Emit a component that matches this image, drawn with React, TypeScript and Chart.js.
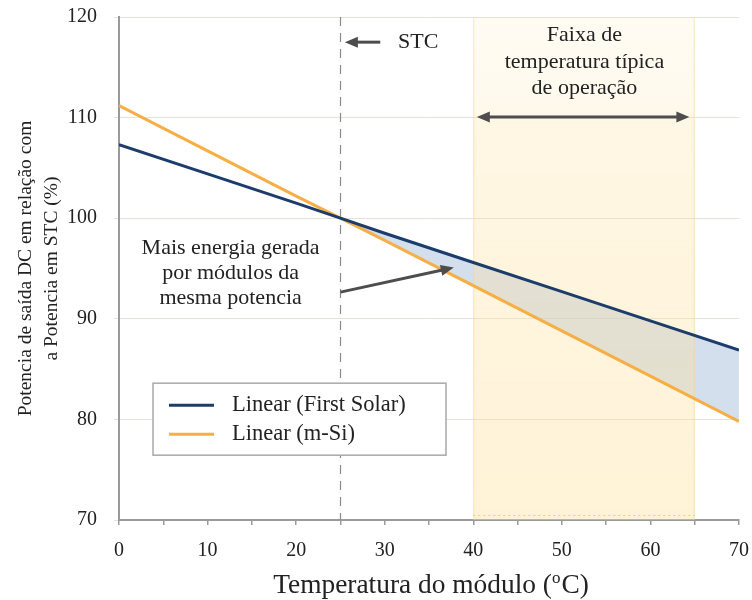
import React, { useEffect, useRef } from "react";
import { Chart, registerables } from "chart.js";

Chart.register(...registerables);

// ---- data ----
const temperatures = [0, 10, 20, 25, 30, 40, 50, 60, 70];
const firstSolar = [107.3, 104.4, 101.5, 100, 98.5, 95.6, 92.7, 89.8, 86.9];
const mSi = [111.2, 106.7, 102.2, 100, 97.8, 93.3, 88.8, 84.3, 79.8];
const seriesLabels = ["Linear (First Solar)", "Linear (m-Si)"];
const seriesColors = ["#1c3d6b", "#f6ae45"];
const xTickLabels = [0, 10, 20, 30, 40, 50, 60, 70];
const yTickValues = [70, 80, 90, 100, 110, 120];
const stcTemperature = 25;
const bandRange = [40, 65];
const yAxisTitle = ["Potencia de saída DC em relação com", "a Potencia em STC (%)"];
const xAxisTitle = ["Temperatura do módulo (", "o", "C)"];
const stcLabel = "STC";
const bandLabel = ["Faixa de", "temperatura típica", "de operação"];
const gainLabel = ["Mais energia gerada", "por módulos da", "mesma potencia"];

const FONT = "'Liberation Serif', 'Times New Roman', serif";
const TEXT = "#222222";
const ARROW = "#4d4d4d";

function drawArrow(ctx: CanvasRenderingContext2D, x1: number, y1: number, x2: number, y2: number, both = false) {
  const head = 13;
  const half = 5.5;
  const ang = Math.atan2(y2 - y1, x2 - x1);
  ctx.save();
  ctx.strokeStyle = ARROW;
  ctx.fillStyle = ARROW;
  ctx.lineWidth = 3;
  const sx = both ? x1 + Math.cos(ang) * head * 0.8 : x1;
  const sy = both ? y1 + Math.sin(ang) * head * 0.8 : y1;
  ctx.beginPath();
  ctx.moveTo(sx, sy);
  ctx.lineTo(x2 - Math.cos(ang) * head * 0.8, y2 - Math.sin(ang) * head * 0.8);
  ctx.stroke();
  const tri = (tx: number, ty: number, a: number) => {
    ctx.beginPath();
    ctx.moveTo(tx, ty);
    ctx.lineTo(tx - Math.cos(a) * head - Math.sin(a) * half, ty - Math.sin(a) * head + Math.cos(a) * half);
    ctx.lineTo(tx - Math.cos(a) * head + Math.sin(a) * half, ty - Math.sin(a) * head - Math.cos(a) * half);
    ctx.closePath();
    ctx.fill();
  };
  tri(x2, y2, ang);
  if (both) tri(x1, y1, ang + Math.PI);
  ctx.restore();
}

const overlayPlugin = {
  id: "overlay",
  beforeDatasetsDraw(chart: any) {
    const { ctx, chartArea: ca, scales } = chart;
    const xs = scales.x;
    const bx0 = xs.getPixelForValue(bandRange[0]);
    const bx1 = xs.getPixelForValue(bandRange[1]);
    ctx.save();
    const g = ctx.createLinearGradient(0, ca.top, 0, ca.bottom);
    g.addColorStop(0, "rgba(255,226,160,0.12)");
    g.addColorStop(0.18, "rgba(255,226,160,0.2)");
    g.addColorStop(0.21, "rgba(255,226,160,0.28)");
    g.addColorStop(0.5, "rgba(255,226,160,0.34)");
    g.addColorStop(1, "rgba(255,224,150,0.38)");
    ctx.fillStyle = g;
    ctx.fillRect(bx0, ca.top, bx1 - bx0, ca.bottom - ca.top);
    ctx.strokeStyle = "rgba(248,205,135,0.5)";
    ctx.lineWidth = 1;
    ctx.beginPath();
    ctx.moveTo(bx0 + 0.5, ca.top);
    ctx.lineTo(bx0 + 0.5, ca.bottom);
    ctx.moveTo(bx1 - 0.5, ca.top);
    ctx.lineTo(bx1 - 0.5, ca.bottom);
    ctx.stroke();
    ctx.setLineDash([2, 3]);
    ctx.strokeStyle = "rgba(240,190,110,0.8)";
    ctx.beginPath();
    ctx.moveTo(bx0, ca.bottom - 4.5);
    ctx.lineTo(bx1, ca.bottom - 4.5);
    ctx.stroke();
    // STC dashed line
    const sx = Math.round(xs.getPixelForValue(stcTemperature)) + 0.5;
    ctx.setLineDash([9, 7]);
    ctx.strokeStyle = "#8a8a8a";
    ctx.lineWidth = 1.2;
    ctx.beginPath();
    ctx.moveTo(sx, ca.top);
    ctx.lineTo(sx, ca.bottom);
    ctx.stroke();
    ctx.restore();
  },
  afterDatasetsDraw(chart: any) {
    const { ctx, chartArea: ca, scales } = chart;
    const xs = scales.x;
    const ys = scales.y;
    const px = (v: number) => xs.getPixelForValue(v);
    const py = (v: number) => ys.getPixelForValue(v);
    ctx.save();
    ctx.fillStyle = TEXT;
    ctx.font = `22px ${FONT}`;
    ctx.textBaseline = "middle";

    // STC annotation
    drawArrow(ctx, px(29.5), py(117.5), px(25.5), py(117.5));
    ctx.textAlign = "left";
    ctx.fillStyle = TEXT;
    ctx.fillText(stcLabel, px(31.5), py(117.5));

    // band annotation
    ctx.textAlign = "center";
    const bandY = [118.2, 115.5, 112.9];
    bandLabel.forEach((t, i) => ctx.fillText(t, px(52.55), py(bandY[i])));
    drawArrow(ctx, px(40.4), py(110.05), px(64.4), py(110.05), true);

    // gain annotation
    const gainY = [97.05, 94.55, 92.05];
    ctx.fillStyle = TEXT;
    gainLabel.forEach((t, i) => ctx.fillText(t, px(12.6), py(gainY[i])));
    drawArrow(ctx, px(25), py(92.65), px(37.8), py(95.1));

    // legend
    const lx = ca.left + 34;
    const ly = py(83.6);
    const lw = 293;
    const lh = 72;
    ctx.fillStyle = "#ffffff";
    ctx.fillRect(lx, ly, lw, lh);
    ctx.strokeStyle = "#a9a9a9";
    ctx.lineWidth = 1.5;
    ctx.strokeRect(lx, ly, lw, lh);
    ctx.font = `22.5px ${FONT}`;
    const ds = chart.data.datasets;
    ds.forEach((d: any, i: number) => {
      const yy = ly + 22 + i * 29;
      ctx.strokeStyle = d.borderColor;
      ctx.lineWidth = 3;
      ctx.beginPath();
      ctx.moveTo(lx + 16, yy);
      ctx.lineTo(lx + 61, yy);
      ctx.stroke();
      ctx.fillStyle = TEXT;
      ctx.textAlign = "left";
      ctx.fillText(d.label, lx + 79, yy);
    });
    ctx.restore();
  },
  afterDraw(chart: any) {
    const { ctx, chartArea: ca } = chart;
    ctx.save();
    ctx.fillStyle = TEXT;
    ctx.textBaseline = "middle";
    ctx.textAlign = "left";
    const big = `27.4px ${FONT}`;
    const small = `17px ${FONT}`;
    ctx.font = big;
    const w1 = ctx.measureText(xAxisTitle[0]).width;
    const w3 = ctx.measureText(xAxisTitle[2]).width;
    ctx.font = small;
    const w2 = ctx.measureText(xAxisTitle[1]).width + 1;
    const total = w1 + w2 + w3;
    const cx = (ca.left + ca.right) / 2 + 2;
    const y = 586;
    let x = cx - total / 2;
    ctx.font = big;
    ctx.fillText(xAxisTitle[0], x, y);
    x += w1;
    ctx.font = small;
    ctx.fillText(xAxisTitle[1], x, y - 7);
    x += w2;
    ctx.font = big;
    ctx.fillText(xAxisTitle[2], x, y);
    ctx.restore();
  },
};

export default function App() {
  const ref = useRef<HTMLCanvasElement>(null);
  useEffect(() => {
    if (!ref.current) return;
    const chart = new Chart(ref.current, {
      type: "line",
      data: {
        datasets: [
          {
            label: seriesLabels[0],
            data: temperatures.map((t, i) => ({ x: t, y: firstSolar[i] })),
            borderColor: seriesColors[0],
            borderWidth: 3,
            pointRadius: 0,
            fill: { target: 1, above: "rgba(160,185,215,0.45)", below: "rgba(0,0,0,0)" },
          },
          {
            label: seriesLabels[1],
            data: temperatures.map((t, i) => ({ x: t, y: mSi[i] })),
            borderColor: seriesColors[1],
            borderWidth: 3,
            pointRadius: 0,
            fill: false,
          },
        ],
      },
      options: {
        responsive: false,
        animation: false,
        layout: { padding: { left: 0, right: 13, top: 17, bottom: 0 } },
        plugins: {
          legend: { display: false },
          tooltip: { enabled: false },
          filler: { drawTime: "beforeDatasetsDraw" },
        },
        scales: {
          x: {
            type: "linear",
            min: 0,
            max: 70,
            afterFit: (s: any) => {
              s.height = 80;
              s.paddingLeft = 0;
              s.paddingRight = 0;
            },
            ticks: {
              stepSize: 5,
              autoSkip: false,
              maxRotation: 0,
              padding: 14,
              color: TEXT,
              font: { family: FONT, size: 20 },
              callback: (v: any) => (xTickLabels.includes(Number(v)) ? String(v) : ""),
            },
            grid: { drawOnChartArea: false, drawTicks: true, tickLength: 5, color: "#9a9a9a", lineWidth: 1.5 },
            border: { color: "#9a9a9a", width: 2 },
          },
          y: {
            type: "linear",
            min: 70,
            max: 120,
            afterFit: (s: any) => {
              s.width = 119;
              s.paddingTop = 0;
              s.paddingBottom = 0;
            },
            afterBuildTicks: (s: any) => {
              s.ticks = yTickValues.map((v) => ({ value: v }));
            },
            ticks: {
              padding: 17,
              color: TEXT,
              font: { family: FONT, size: 20 },
            },
            grid: { color: "#e3e3db", lineWidth: 1, tickLength: 5 },
            border: { color: "#9a9a9a", width: 2 },
            title: {
              display: true,
              text: yAxisTitle,
              color: TEXT,
              font: { family: FONT, size: 19.5, lineHeight: 1.33 },
              padding: { top: 13, bottom: 0 },
            },
          },
        },
      },
      plugins: [overlayPlugin],
    } as any);
    return () => chart.destroy();
  }, []);
  return (
    <div style={{ position: "absolute", left: 0, top: 0, width: 752, height: 600, background: "#fff" }}>
      <canvas ref={ref} width={752} height={600} />
    </div>
  );
}
